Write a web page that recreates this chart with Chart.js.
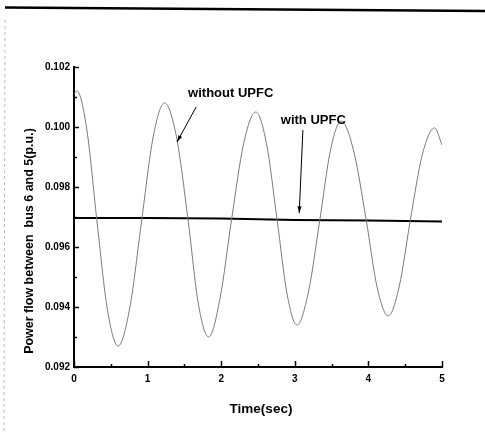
<!DOCTYPE html>
<html lang="en">
<head>
  <meta charset="UTF-8" />
  <title>Power flow between bus 6 and 5</title>
  <script src="https://cdn.jsdelivr.net/npm/chart.js"></script>
  <style>
    body { margin: 0; background: #fff; }
    #wrap { width: 485px; height: 434px; position: relative; }
  </style>
</head>
<body>
  <div id="wrap">
    <canvas id="flowChart" width="485" height="434"></canvas>
  </div>

  <script>
    // values
    const timeWithout = [0, 0.04, 0.175, 0.31, 0.455, 0.6, 0.76, 0.92, 1.075, 1.23, 1.39, 1.55, 1.69, 1.83,
      1.985, 2.14, 2.305, 2.47, 2.615, 2.76, 2.895, 3.03, 3.185, 3.34, 3.485, 3.63, 3.8, 3.97, 4.12, 4.27,
      4.42, 4.57, 4.735, 4.9, 5.0];
    const powerWithout = [0.1011, 0.1012, 0.0999, 0.0969, 0.0939, 0.0927, 0.0940, 0.0969, 0.09966, 0.1008,
      0.0997, 0.0969, 0.0941, 0.0930, 0.0943, 0.0969, 0.09945, 0.1005, 0.09945, 0.0969, 0.09443, 0.0934,
      0.0945, 0.0969, 0.09923, 0.1002, 0.0992, 0.0969, 0.09464, 0.0937, 0.0947, 0.0969, 0.0991, 0.09997, 0.0994];

    const timeWith = [0, 1, 2, 3, 4, 5];
    const powerWith = [0.09697, 0.09697, 0.09695, 0.0969, 0.09688, 0.09685];

    const yTicks = [0.092, 0.094, 0.096, 0.098, 0.100, 0.102];
    const xTicks = [0, 1, 2, 3, 4, 5];

    const toPoints = (xs, ys) => xs.map((x, i) => ({ x: x, y: ys[i] }));

    const FONT = 'Arial, "Liberation Sans", sans-serif';

    const figureExtras = {
      id: 'figureExtras',
      afterDraw(chart) {
        const ctx = chart.ctx;
        const xs = chart.scales.x;
        const ys = chart.scales.y;
        const area = chart.chartArea;
        ctx.save();
        ctx.strokeStyle = '#000';
        ctx.fillStyle = '#000';

        // inward ticks, major and minor
        ctx.lineWidth = 1.5;
        for (let v = 0.092; v <= 0.10201; v += 0.001) {
          const py = Math.round(ys.getPixelForValue(v)) + 0.5;
          const major = Math.round(v * 1000) % 2 === 0;
          ctx.beginPath();
          ctx.moveTo(area.left, py);
          ctx.lineTo(area.left + (major ? 5 : 3), py);
          ctx.stroke();
        }
        for (let t = 0; t <= 5.001; t += 0.5) {
          const px = Math.round(xs.getPixelForValue(t)) + 0.5;
          const major = Math.abs(t - Math.round(t)) < 0.01;
          ctx.beginPath();
          ctx.moveTo(px, area.bottom);
          ctx.lineTo(px, area.bottom - (major ? 6 : 3));
          ctx.stroke();
        }

        // annotations
        ctx.font = 'bold 13px ' + FONT;
        ctx.textBaseline = 'middle';
        ctx.textAlign = 'left';
        ctx.fillText('without UPFC', xs.getPixelForValue(1.55), ys.getPixelForValue(0.10113));
        ctx.fillText('with UPFC', xs.getPixelForValue(2.81), ys.getPixelForValue(0.10023));

        function arrow(t1, v1, t2, v2) {
          const x1 = xs.getPixelForValue(t1), y1 = ys.getPixelForValue(v1);
          const x2 = xs.getPixelForValue(t2), y2 = ys.getPixelForValue(v2);
          const a = Math.atan2(y2 - y1, x2 - x1);
          ctx.lineWidth = 1;
          ctx.beginPath();
          ctx.moveTo(x1, y1);
          ctx.lineTo(x2, y2);
          ctx.stroke();
          ctx.beginPath();
          ctx.moveTo(x2, y2);
          ctx.lineTo(x2 - 7 * Math.cos(a - 0.3), y2 - 7 * Math.sin(a - 0.3));
          ctx.lineTo(x2 - 7 * Math.cos(a + 0.3), y2 - 7 * Math.sin(a + 0.3));
          ctx.closePath();
          ctx.fill();
        }
        arrow(1.66, 0.10067, 1.40, 0.0995);
        arrow(3.11, 0.0999, 3.06, 0.09713);

        // axis titles
        ctx.font = 'bold 13.5px ' + FONT;
        ctx.textAlign = 'center';
        ctx.fillText('Time(sec)', (area.left + area.right) / 2 + 3, 409);
        ctx.font = 'bold 12.5px ' + FONT;
        ctx.translate(30, 241);
        ctx.rotate(-Math.PI / 2);
        ctx.fillText('Power flow between  bus 6 and 5(p.u.)', 0, 0);
        ctx.setTransform(1, 0, 0, 1, 0, 0);

        // scan edge line at the top of the page
        ctx.lineWidth = 2.5;
        ctx.beginPath();
        ctx.moveTo(5, 7.5);
        ctx.lineTo(485, 11);
        ctx.stroke();
        ctx.strokeStyle = '#bbb';
        ctx.lineWidth = 1;
        ctx.setLineDash([3, 3]);
        ctx.beginPath();
        ctx.moveTo(5, 20);
        ctx.lineTo(4, 434);
        ctx.stroke();
        ctx.restore();
      }
    };

    new Chart(document.getElementById('flowChart').getContext('2d'), {
      type: 'line',
      data: {
        datasets: [
          {
            label: 'without UPFC',
            data: toPoints(timeWithout, powerWithout),
            borderColor: '#7a7a7a',
            borderWidth: 1,
            pointRadius: 0,
            cubicInterpolationMode: 'monotone',
            fill: false
          },
          {
            label: 'with UPFC',
            data: toPoints(timeWith, powerWith),
            borderColor: '#000',
            borderWidth: 2,
            pointRadius: 0,
            tension: 0,
            fill: false
          }
        ]
      },
      options: {
        responsive: false,
        animation: false,
        layout: { padding: { left: 0, right: 43, top: 67, bottom: 41 } },
        scales: {
          x: {
            type: 'linear',
            min: 0,
            max: 5,
            afterBuildTicks: s => { s.ticks = xTicks.map(v => ({ value: v })); },
            afterFit: s => { s.height = 26; },
            grid: { display: false, drawTicks: false },
            border: { display: true, color: '#000', width: 2 },
            ticks: {
              color: '#000',
              padding: 6,
              maxRotation: 0,
              font: { family: FONT, size: 10, weight: 'bold' }
            }
          },
          y: {
            min: 0.092,
            max: 0.102,
            afterBuildTicks: s => { s.ticks = yTicks.map(v => ({ value: v })); },
            afterFit: s => { s.width = 74; },
            grid: { display: false, drawTicks: false },
            border: { display: true, color: '#000', width: 2 },
            ticks: {
              color: '#000',
              padding: 4,
              callback: v => Number(v).toFixed(3),
              font: { family: FONT, size: 10, weight: 'bold' }
            }
          }
        },
        plugins: {
          legend: { display: false },
          tooltip: { enabled: false }
        }
      },
      plugins: [figureExtras]
    });
  </script>
</body>
</html>
